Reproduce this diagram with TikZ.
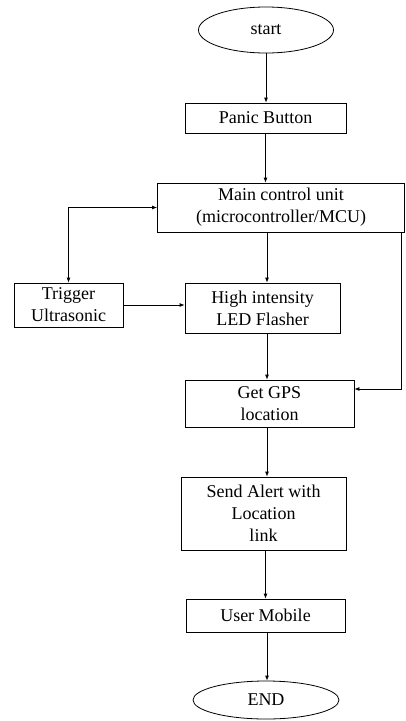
\documentclass[tikz,border=0pt]{standalone}
\usepackage{fontspec}
\setmainfont{Liberation Serif}
\usetikzlibrary{arrows.meta,shapes.geometric}
\begin{document}
\begin{tikzpicture}[x=1pt,y=-1pt,
  box/.style={draw,line width=0.8pt,align=center,inner sep=0pt,font=\fontsize{18}{22}\selectfont},
  oval/.style={draw,ellipse,line width=0.8pt,inner sep=0pt,font=\fontsize{18}{22}\selectfont},
  arr/.style={line width=0.8pt,-{Latex[length=5pt,width=4pt]}},
  arrb/.style={line width=0.8pt,{Latex[length=5pt,width=4pt]}-{Latex[length=5pt,width=4pt]}}]
\useasboundingbox (0,0) rectangle (406,721);
\node[oval,minimum width=135,minimum height=46] (start) at (266,30) {start};
\node[box,minimum width=161,minimum height=30] (panic) at (265.5,118) {Panic Button};
\node[box,minimum width=247,minimum height=49] (mcu) at (281,207.5) {Main control unit\\(microcontroller/MCU)};
\node[box,minimum width=109,minimum height=44] (trig) at (68.5,305) {Trigger\\Ultrasonic};
\node[box,minimum width=155,minimum height=50] (led) at (262.5,308) {High intensity\\LED Flasher};
\node[box,minimum width=169,minimum height=47] (gps) at (269.5,403.5) {Get GPS\\location};
\node[box,minimum width=165,minimum height=73] (send) at (263.5,513.5) {Send Alert with\\Location\\link};
\node[box,minimum width=159,minimum height=33] (user) at (265.5,615.5) {User Mobile};
\node[oval,minimum width=146,minimum height=38] (end) at (266,700) {END};
\coordinate (ax) at (267,0);
\coordinate (rc) at (401,389);
\draw[arr] (start.south) -- (start.south |- panic.north);
\draw[arr] (panic.south) -- (panic.south |- mcu.north);
\draw[arr] (mcu.south -| ax) -- (led.north -| ax);
\draw[arrb] (trig.north) |- (mcu.west);
\draw[arr] (trig.east) -- (led.west |- trig.east);
\draw[arr] (mcu.south -| rc) -- (rc) -- (gps.east |- rc);
\draw[arr] (led.south -| ax) -- (gps.north -| ax);
\draw[arr] (gps.south -| ax) -- (send.north -| ax);
\draw[arr] (send.south -| user.south) -- (user.north);
\draw[arr] (user.south -| ax) -- (end.north -| ax);
\end{tikzpicture}
\end{document}
